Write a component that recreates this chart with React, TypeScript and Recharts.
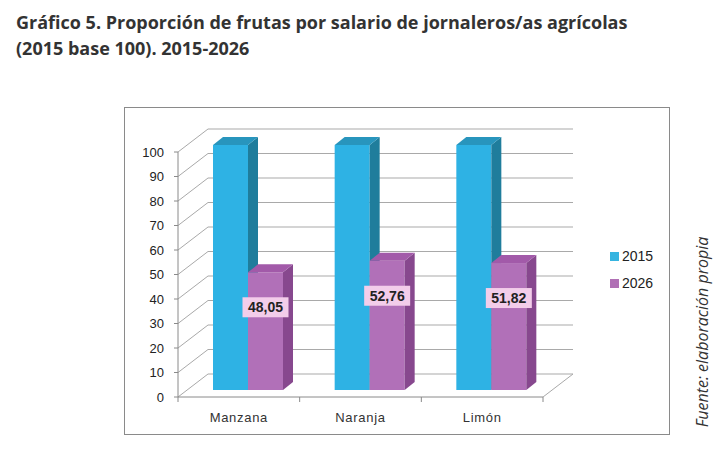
import React from "react"
import { BarChart, Bar, XAxis, YAxis, CartesianGrid, LabelList } from "recharts"

const categories = ["Manzana", "Naranja", "Limón"]
const values2015 = [100, 100, 100]
const values2026 = [48.05, 52.76, 51.82]
const seriesNames = ["2015", "2026"]
const yTicks = [0, 10, 20, 30, 40, 50, 60, 70, 80, 90, 100]

const data = categories.map((name, i) => ({
  name,
  s2015: values2015[i],
  s2026: values2026[i],
}))

// layout of the front plane of the plot
const W = 724
const H = 450
const PLOT_LEFT = 178
const PLOT_RIGHT = 543
const PLOT_TOP = 152
const PLOT_BOTTOM = 397
const Y_AXIS_W = 40
const X_AXIS_H = 30
const BAND = (PLOT_RIGHT - PLOT_LEFT) / categories.length

// 3d offsets
const WALL_DX = 30
const WALL_DY = -23
const BAR_SHIFT_X = 9
const BAR_SHIFT_Y = -7
const BAR_DX = 10
const BAR_DY = -8

const blue = { front: "#2eb2e4", side: "#1f7d9c", top: "#2895bd", legend: "#36b4e0" }
const purple = { front: "#b170b8", side: "#87488e", top: "#a25aa9", legend: "#b070b5" }
const seriesColors = [blue, purple]

const gridColor = "#a9a9a9"
const axisColor = "#8a8a8a"

const makeBar3D = (c: typeof blue) => (props: any) => {
  const { x, y, width, height } = props
  if (width == null || height == null) return <g />
  const fx = x + BAR_SHIFT_X
  const fy = y + BAR_SHIFT_Y
  return (
    <g>
      <rect x={fx} y={fy} width={width} height={height} fill={c.front} />
      <polygon
        points={`${fx + width},${fy} ${fx + width + BAR_DX},${fy + BAR_DY} ${fx + width + BAR_DX},${fy + height + BAR_DY} ${fx + width},${fy + height}`}
        fill={c.side}
      />
      <polygon
        points={`${fx},${fy} ${fx + BAR_DX},${fy + BAR_DY} ${fx + width + BAR_DX},${fy + BAR_DY} ${fx + width},${fy}`}
        fill={c.top}
      />
    </g>
  )
}

const gridLine = (p: any) => {
  const { x1, y1, x2, index } = p
  const bx1 = x1 + WALL_DX
  const bx2 = x2 + WALL_DX
  const by = y1 + WALL_DY
  const floor = Math.abs(y1 - PLOT_BOTTOM) < 1
  return (
    <g key={`grid-${index}`} stroke={gridColor} strokeWidth={1}>
      <line x1={x1} y1={y1} x2={bx1} y2={by} />
      <line x1={bx1} y1={by} x2={bx2} y2={by} />
      {floor && <line x1={x2} y1={y1} x2={bx2} y2={by} />}
    </g>
  )
}

const XTick = (p: any) => {
  const { x, payload, index } = p
  const half = BAND / 2
  return (
    <g>
      <line x1={x - half} y1={PLOT_BOTTOM} x2={x - half} y2={PLOT_BOTTOM + 5} stroke={axisColor} />
      {index === categories.length - 1 && (
        <line x1={x + half} y1={PLOT_BOTTOM} x2={x + half} y2={PLOT_BOTTOM + 5} stroke={axisColor} />
      )}
      <text
        x={x}
        y={PLOT_BOTTOM + 25}
        textAnchor="middle"
        fontSize={13}
        letterSpacing={0.7}
        fill="#333"
        fontFamily="'Liberation Sans', Arial, sans-serif"
      >
        {payload.value}
      </text>
    </g>
  )
}

const ValueLabel = (p: any) => {
  const { x, y, width, value } = p
  const cx = x + BAR_SHIFT_X + width / 2
  const cy = y + BAR_SHIFT_Y + 35
  const txt = Number(value).toFixed(2).replace(".", ",")
  return (
    <g>
      <rect x={cx - 23} y={cy - 10} width={46} height={20} fill="#f3cdea" />
      <text
        x={cx}
        y={cy + 5}
        textAnchor="middle"
        fontSize={14}
        fontWeight="bold"
        fill="#222"
        fontFamily="'Liberation Sans', Arial, sans-serif"
      >
        {txt}
      </text>
    </g>
  )
}

export default function App() {
  return (
    <div style={{ position: "absolute", left: 0, top: 0, width: W, height: H, background: "#fff" }}>
      <div
        style={{
          position: "absolute",
          left: 16,
          top: 9,
          fontFamily: "'Open Sans', sans-serif",
          fontWeight: 700,
          fontSize: 18,
          lineHeight: "26px",
          color: "#333",
          whiteSpace: "nowrap",
        }}
      >
        Gráfico 5. Proporción de frutas por salario de jornaleros/as agrícolas
        <br />
        (2015 base 100). 2015-2026
      </div>
      <div
        style={{
          position: "absolute",
          left: 124,
          top: 107,
          width: 544,
          height: 326,
          border: "1px solid #8a8a8a",
        }}
      />
      <div style={{ position: "absolute", left: 0, top: 0 }}>
        <BarChart
          width={W}
          height={H}
          data={data}
          barSize={35}
          barGap={0}
          margin={{
            top: PLOT_TOP,
            right: W - PLOT_RIGHT,
            left: PLOT_LEFT - Y_AXIS_W,
            bottom: H - PLOT_BOTTOM - X_AXIS_H,
          }}
        >
          <CartesianGrid vertical={false} horizontal={gridLine} />
          <XAxis
            dataKey="name"
            height={X_AXIS_H}
            tickLine={false}
            axisLine={{ stroke: axisColor }}
            tick={<XTick />}
            interval={0}
          />
          <YAxis
            width={Y_AXIS_W}
            domain={[0, 100]}
            ticks={yTicks}
            tickSize={4}
            tickMargin={10}
            axisLine={{ stroke: axisColor }}
            tickLine={{ stroke: axisColor }}
            tick={{ fontSize: 13, fill: "#222", fontFamily: "'Liberation Sans', Arial, sans-serif" }}
          />
          <Bar dataKey="s2015" name={seriesNames[0]} shape={makeBar3D(blue)} isAnimationActive={false} />
          <Bar dataKey="s2026" name={seriesNames[1]} shape={makeBar3D(purple)} isAnimationActive={false}>
            <LabelList dataKey="s2026" content={<ValueLabel />} />
          </Bar>
        </BarChart>
      </div>
      <div style={{ position: "absolute", left: 610, top: 247, fontFamily: "'Liberation Sans', Arial, sans-serif", fontSize: 14, color: "#222" }}>
        {seriesNames.map((s, i) => (
          <div key={s} style={{ display: "flex", alignItems: "center", height: 18, marginBottom: 9 }}>
            <span style={{ width: 9, height: 9, background: seriesColors[i].legend, marginRight: 3 }} />
            {s}
          </div>
        ))}
      </div>
      <div
        style={{
          position: "absolute",
          left: 702,
          top: 332,
          transform: "translate(-50%, -50%) rotate(-90deg)",
          fontFamily: "'Open Sans', sans-serif",
          fontStyle: "italic",
          fontSize: 16,
          color: "#333",
          whiteSpace: "nowrap",
        }}
      >
        Fuente: elaboración propia
      </div>
    </div>
  )
}
